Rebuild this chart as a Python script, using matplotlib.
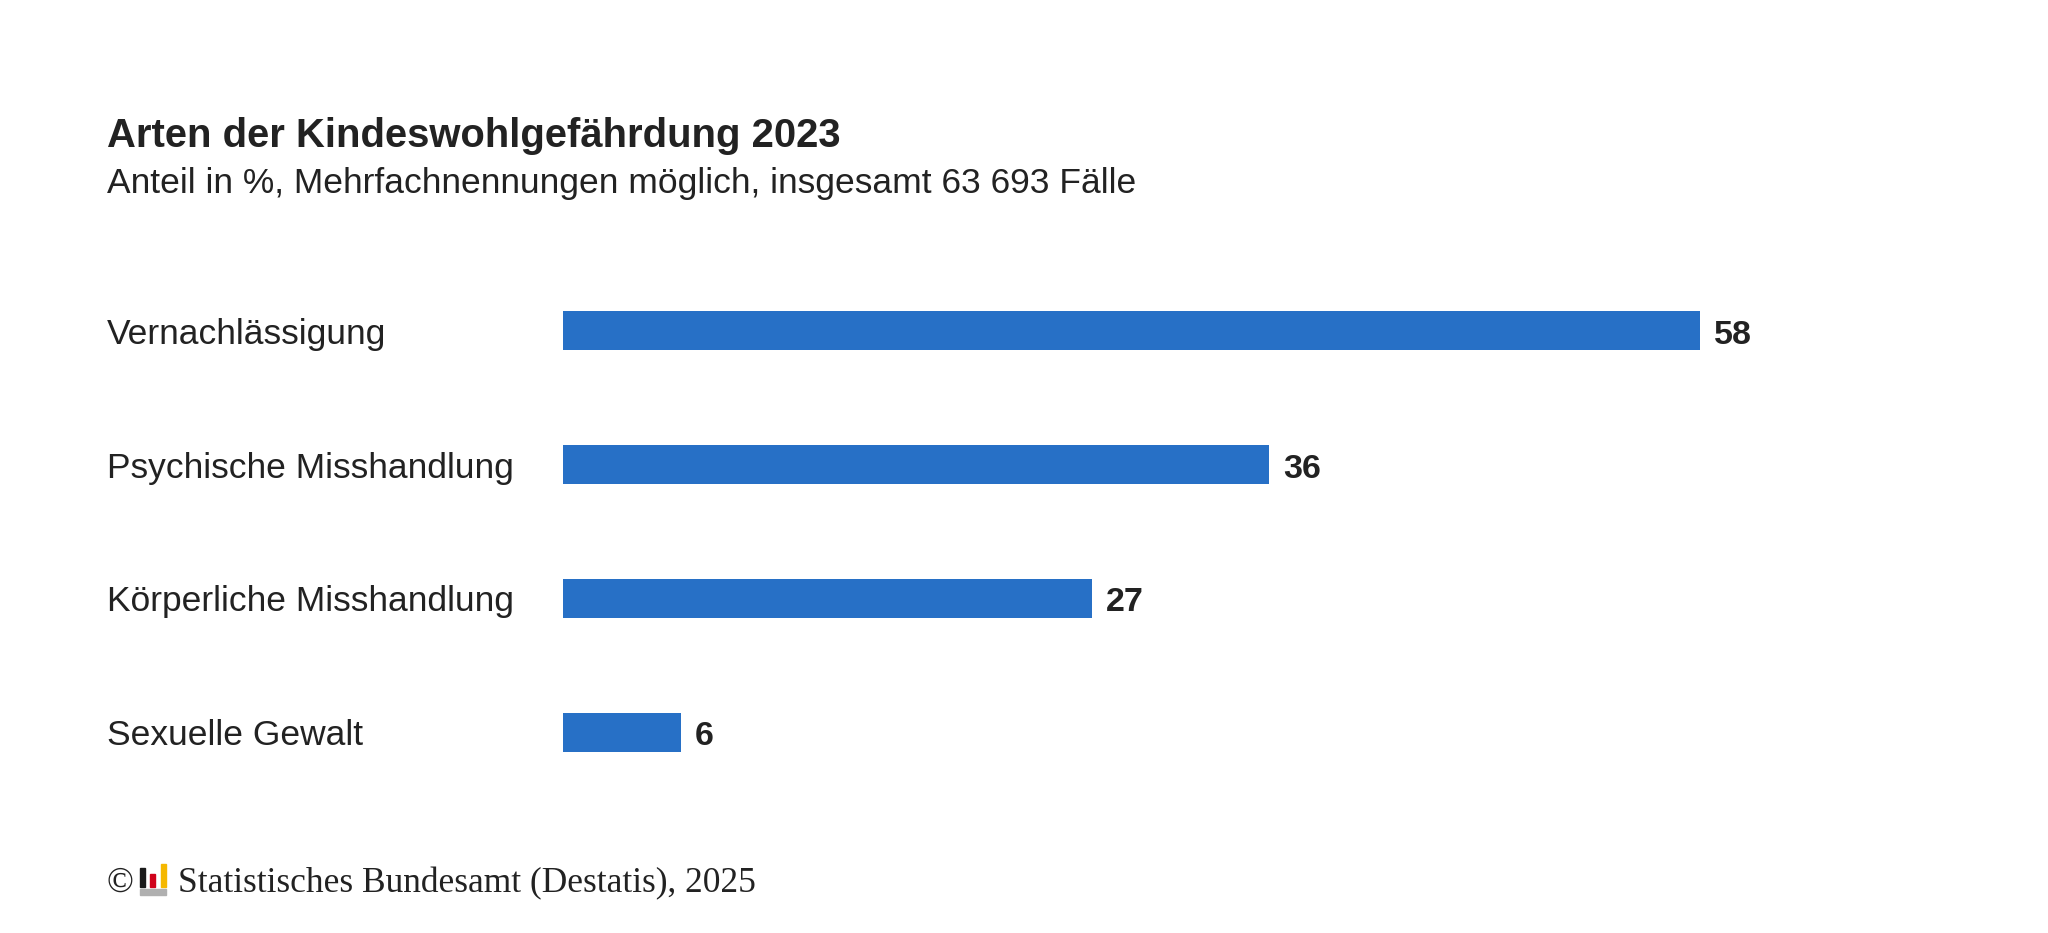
import matplotlib.pyplot as plt
import matplotlib.transforms as mtransforms
from matplotlib.patches import Rectangle

# Data
categories = ['Vernachlässigung', 'Psychische Misshandlung',
              'Körperliche Misshandlung', 'Sexuelle Gewalt']
values = [58, 36, 27, 6]

title = 'Arten der Kindeswohlgefährdung 2023'
subtitle = 'Anteil in %, Mehrfachnennungen möglich, insgesamt 63 693 Fälle'
source = 'Statistisches Bundesamt (Destatis), 2025'

bar_color = '#2770c6'
text_color = '#222222'

W, H = 2048, 933
fig = plt.figure(figsize=(W / 100, H / 100), dpi=100)
fig.patch.set_facecolor('white')

# axes placed in pixel terms
left, right = 563, 1700
top, bottom = 669, 134
ax = fig.add_axes([left / W, bottom / H, (right - left) / W, (top - bottom) / H])
ax.axis('off')

pos = list(range(len(categories)))
ax.barh(pos, values, height=0.29, color=bar_color)
ax.set_xlim(0, max(values))
ax.set_ylim(len(categories) - 0.5, -0.5)

for p, v in zip(pos, values):
    ax.annotate(str(v), (v, p), xytext=(14, -13), textcoords='offset pixels',
                ha='left', va='baseline', fontsize=24.5, fontweight='bold',
                color=text_color, family='Liberation Sans', annotation_clip=False)

trans = mtransforms.blended_transform_factory(fig.transFigure, ax.transData)
for p, c in zip(pos, categories):
    ax.annotate(c, (107 / W, p), xycoords=trans, xytext=(0, -13),
                textcoords='offset pixels', ha='left', va='baseline',
                fontsize=25.5, color=text_color, family='Liberation Sans')

fig.text(107 / W, 1 - 147 / H, title, ha='left', va='baseline', fontsize=28.8,
         fontweight='bold', color=text_color, family='Liberation Sans')
fig.text(107 / W, 1 - 193 / H, subtitle, ha='left', va='baseline', fontsize=25.5,
         color=text_color, family='Liberation Sans')

# footer: copyright sign, small logo, source
fig.text(107 / W, 1 - 892 / H, '©', ha='left', va='baseline', fontsize=25.5,
         color=text_color, family='Liberation Serif')
logo = [(140, 4.5, 19, '#1a1a1a'), (150, 4.5, 13, '#d0021b'), (160.5, 5, 23, '#f5b800')]
for x0, w, h, col in logo:
    fig.patches.append(Rectangle((x0 / W, (H - 887) / H), w / W, h / H,
                                 transform=fig.transFigure, color=col))
fig.patches.append(Rectangle((140 / W, (H - 895) / H), 26 / W, 6 / H,
                             transform=fig.transFigure, color='#b0b0b0'))
fig.text(178 / W, 1 - 892 / H, source, ha='left', va='baseline', fontsize=25.5,
         color=text_color, family='Liberation Serif')

fig.savefig('out.png', dpi=100, facecolor='white')
